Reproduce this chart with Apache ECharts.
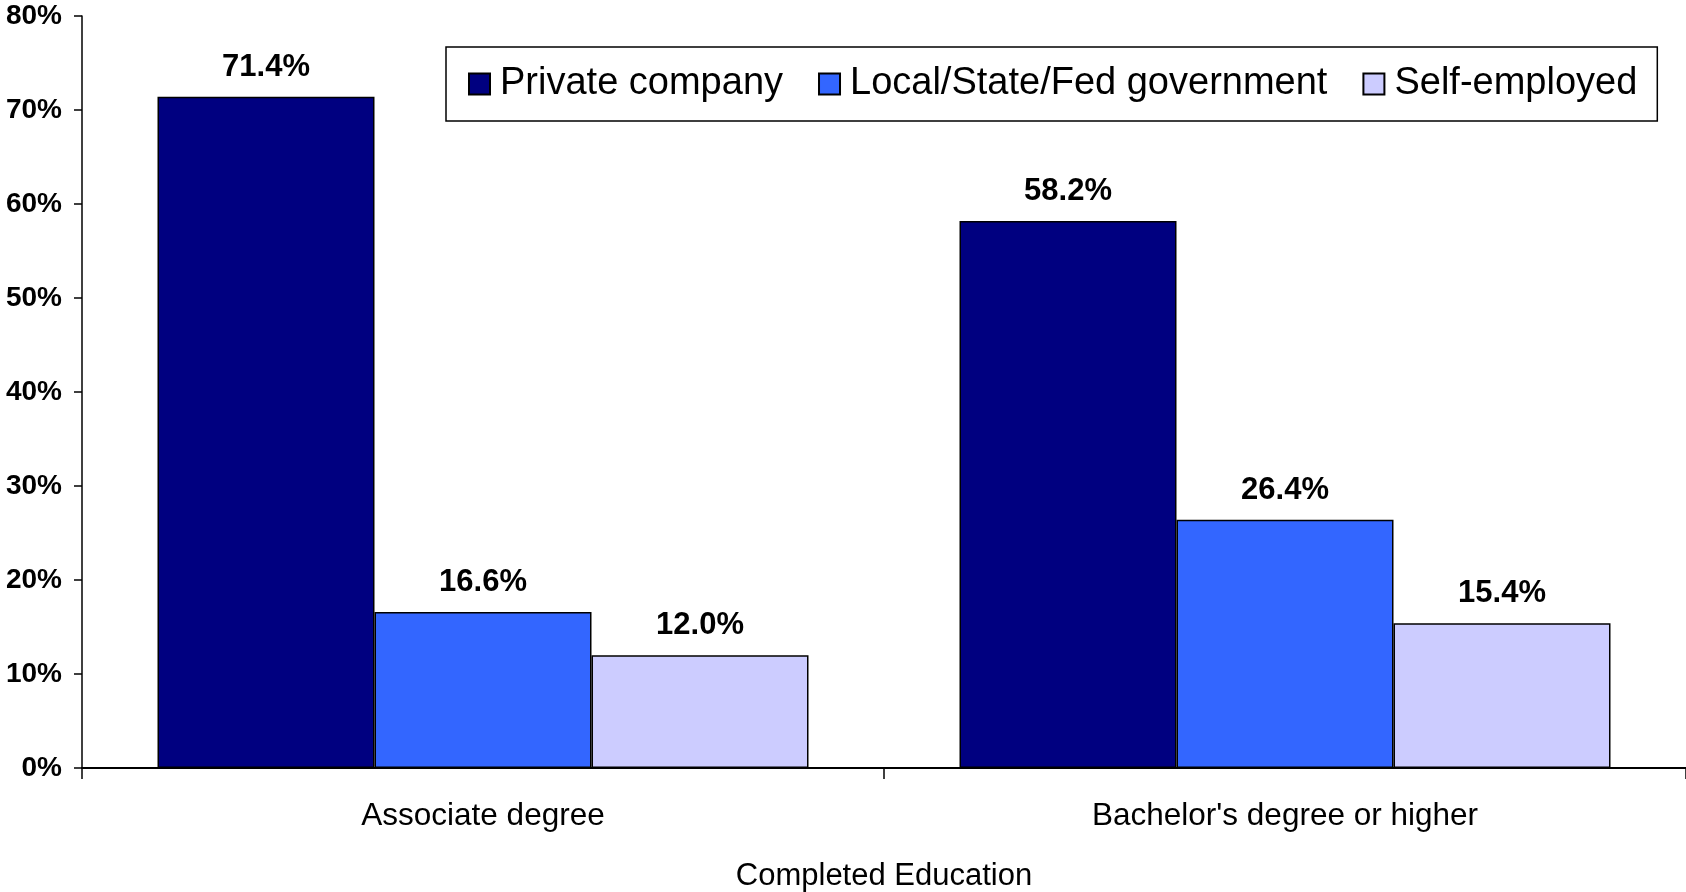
<!DOCTYPE html>
<html>
<head>
<meta charset="utf-8">
<script src="https://cdn.jsdelivr.net/npm/echarts@6/dist/echarts.min.js"></script>
<style>html,body{margin:0;padding:0;background:#fff;}#c{width:1686px;height:892px;}</style>
</head>
<body>
<div id="c"></div>
<script>
const categories = ["Associate degree", "Bachelor's degree or higher"];
const privateCompany = [71.4, 58.2];
const government = [16.6, 26.4];
const selfEmployed = [12.0, 15.4];
const seriesNames = ["Private company", "Local/State/Fed government", "Self-employed"];
const yTicks = [0, 10, 20, 30, 40, 50, 60, 70, 80];

const FONT = "'Liberation Sans', Arial, sans-serif";
const colors = ['#000080', '#3366FF', '#CCCCFF'];
const values = [privateCompany, government, selfEmployed];

const chart = echarts.init(document.getElementById('c'), null, {renderer: 'canvas'});
chart.setOption({
  animation: false,
  backgroundColor: '#ffffff',
  textStyle: {fontFamily: FONT},
  grid: {left: 82, right: 0, top: 16, bottom: 124, containLabel: false, outerBoundsMode: 'none'},
  legend: {
    left: 446, top: 47,
    padding: [18, 20, 18, 22],
    itemWidth: 21, itemHeight: 21,
    itemGap: 35,
    icon: 'rect',
    borderColor: '#000', borderWidth: 1.5,
    backgroundColor: '#fff',
    textStyle: {fontFamily: FONT, fontSize: 38, color: '#000', lineHeight: 38, padding: [0, 0, 0, 5]},
    data: seriesNames
  },
  xAxis: {
    type: 'category',
    data: categories,
    name: 'Completed Education',
    nameLocation: 'middle',
    nameGap: 93,
    nameTextStyle: {fontFamily: FONT, fontSize: 31, color: '#000', lineHeight: 31},
    axisLine: {lineStyle: {color: '#000', width: 2}},
    axisTick: {show: true, length: 11, interval: 0, lineStyle: {color: '#000', width: 1.5}},
    axisLabel: {fontFamily: FONT, fontSize: 31.5, color: '#000', margin: 33, lineHeight: 31},
    splitLine: {show: false}
  },
  yAxis: {
    type: 'value',
    min: yTicks[0], max: yTicks[yTicks.length - 1], interval: 10,
    axisLine: {show: true, lineStyle: {color: '#000', width: 1.5}},
    axisTick: {show: true, length: 8, lineStyle: {color: '#000', width: 1.5}},
    axisLabel: {fontFamily: FONT, fontSize: 28, fontWeight: 'bold', color: '#000', margin: 20, formatter: '{value}%'},
    splitLine: {show: false}
  },
  series: seriesNames.map((name, i) => ({
    name: name,
    type: 'bar',
    data: values[i],
    barWidth: 217,
    barGap: '0%',
    itemStyle: {color: colors[i], borderColor: '#000', borderWidth: 1.5},
    label: {
      show: true, position: 'top', distance: 14,
      fontFamily: FONT, fontSize: 31, fontWeight: 'bold', color: '#000', lineHeight: 31,
      formatter: p => p.value.toFixed(1) + '%'
    }
  }))
});
</script>
</body>
</html>
